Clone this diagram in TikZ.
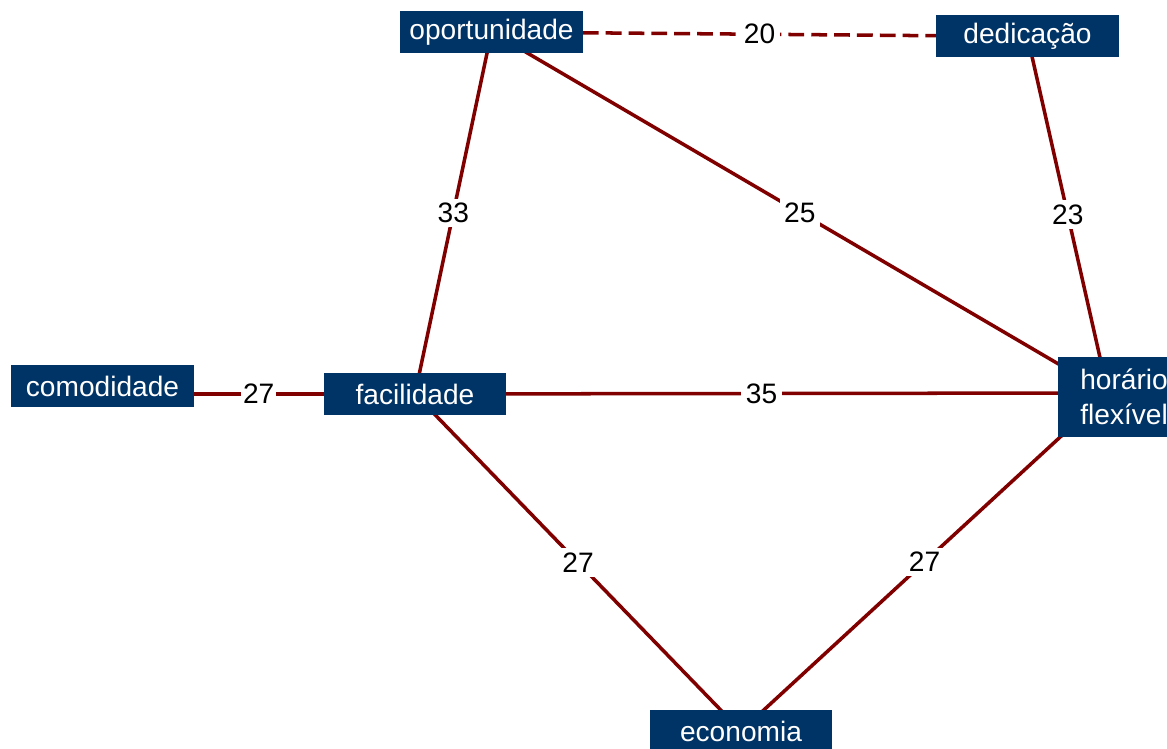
\documentclass[tikz,border=0pt]{standalone}
\usepackage{fontspec}
\setmainfont{Liberation Sans}
\usetikzlibrary{backgrounds,calc}
\definecolor{navy}{RGB}{0,51,102}
\definecolor{wine}{RGB}{128,0,0}

\begin{document}
\begin{tikzpicture}[x=0.02cm,y=-0.02cm,
    box/.style={fill=navy,text=white,minimum width=3.66cm,minimum height=0.84cm,inner sep=0pt,font=\fontsize{16}{20}\selectfont},
    link/.style={draw=wine,line width=2pt},
    val/.style={fill=white,inner sep=2.5pt,font=\fontsize{16}{20}\selectfont}]
    \useasboundingbox (0,0) rectangle (1167,749);
    \node[box] (opo) at (491.5,32) {oportunidade};
    \node[box] (ded) at (1027.5,36.5) {dedicação};
    \node[box] (com) at (102.5,386) {comodidade};
    \node[box] (fac) at (415,394) {facilidade};
    \node[box] (eco) at (741,731) {economia};
    \node[box,anchor=west,minimum height=1.6cm,text width=2.78cm,inner xsep=0.44cm,align=left] (hor) at (1058,397) {horário\\flexível};
    \coordinate (hork) at ($(hor.west)+(50,-4)$);
    \begin{pgfonlayer}{background}
    \draw[link,dash pattern=on 9pt off 4pt] (opo.center) -- node[val]{20} (ded.center);
    \draw[link] (opo.center) -- node[val]{33} (fac.center);
    \draw[link] (opo.center) -- node[val]{25} (hork);
    \draw[link] (ded.center) -- node[val]{23} (hork);
    \draw[link] (fac.center -| com.center) -- node[val,inner sep=1pt]{27} (fac.center);
    \draw[link] (fac.center) -- node[val]{35} (hork);
    \draw[link] (fac.center) -- node[val]{27} (eco.center);
    \draw[link] (hork) -- node[val]{27} (eco.center);
    \end{pgfonlayer}
\end{tikzpicture}
\end{document}
